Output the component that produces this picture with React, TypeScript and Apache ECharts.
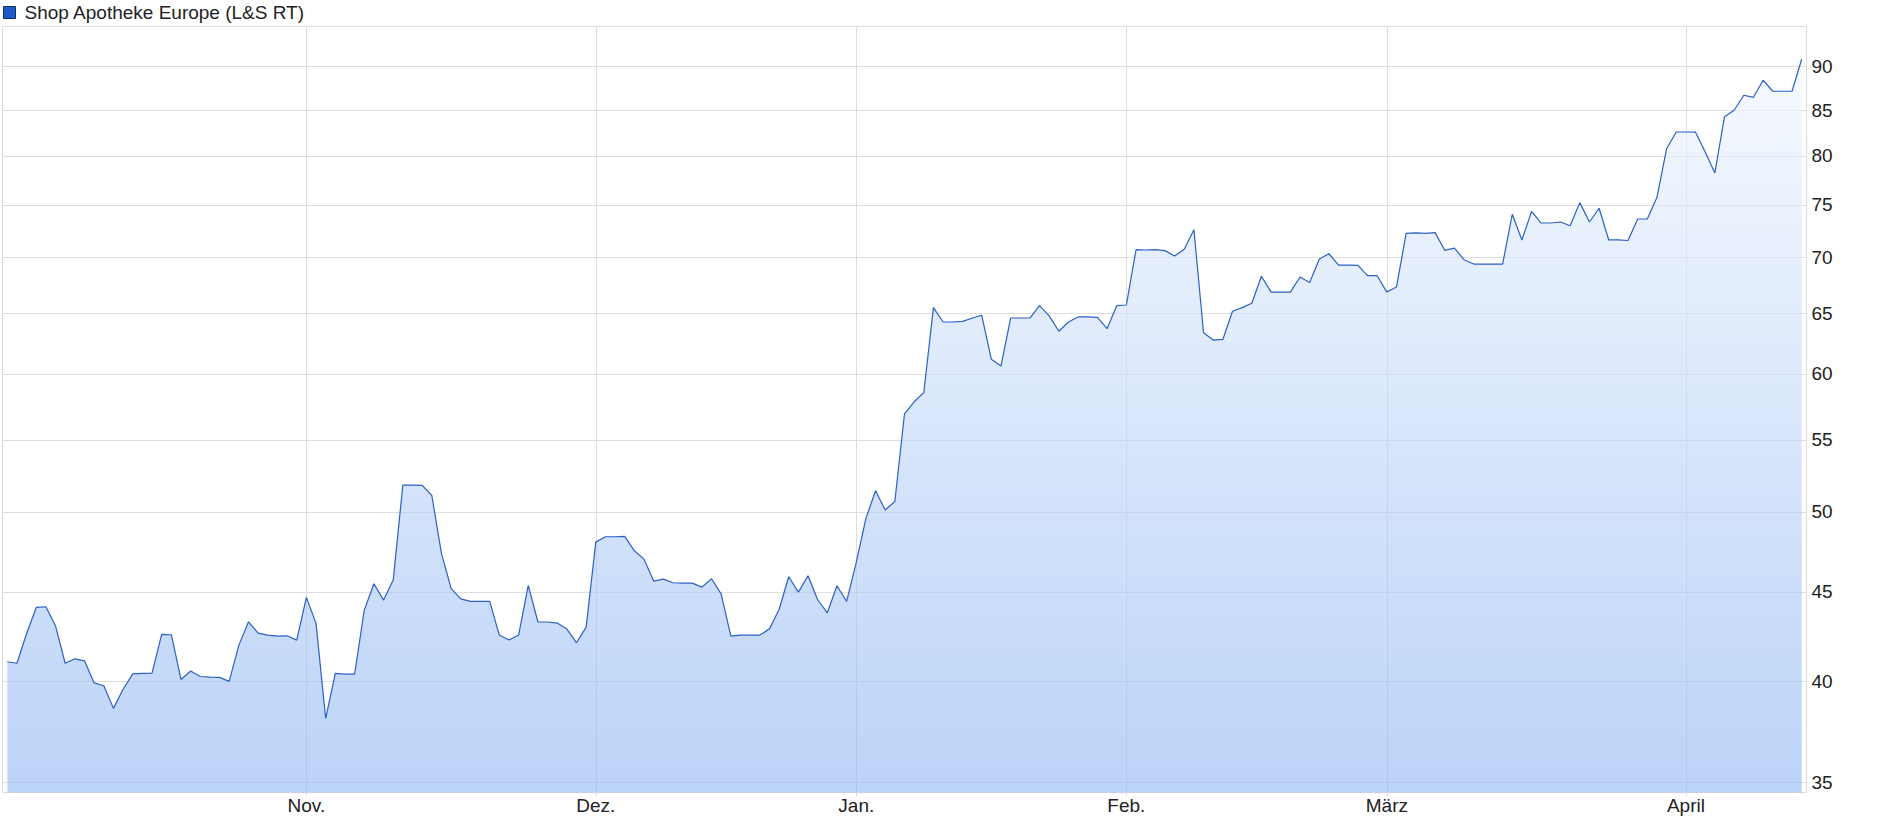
import { useEffect, useRef } from "react";
import * as echarts from "echarts";

const seriesName = "Shop Apotheke Europe (L&S RT)";

// Daily closing values (one point per calendar day, L&S real time)
const prices: number[] = [
  41.03, 40.95, 42.59, 44.08, 44.12, 43.01, 40.95, 41.19, 41.08, 39.9,
  39.75, 38.58, 39.57, 40.38, 40.4, 40.42, 42.54, 42.52, 40.08, 40.53,
  40.24, 40.21, 40.19, 39.98, 41.94, 43.25, 42.61, 42.5, 42.44, 42.46,
  42.22, 44.67, 43.16, 38.07, 40.4, 40.36, 40.36, 43.92, 45.48, 44.51,
  45.7, 51.81, 51.81, 51.79, 51.11, 47.34, 45.2, 44.58, 44.43, 44.43,
  44.43, 42.5, 42.22, 42.5, 45.38, 43.24, 43.24, 43.18, 42.84, 42.07,
  42.95, 48.05, 48.39, 48.39, 48.41, 47.5, 46.98, 45.64, 45.76, 45.54,
  45.52, 45.52, 45.28, 45.78, 44.86, 42.44, 42.5, 42.5, 42.5, 42.85,
  43.96, 45.9, 44.98, 45.96, 44.53, 43.77, 45.36, 44.43, 46.78, 49.58,
  51.42, 50.13, 50.7, 56.92, 57.83, 58.53, 65.48, 64.25, 64.25, 64.31,
  64.57, 64.83, 61.16, 60.62, 64.59, 64.59, 64.59, 65.65, 64.77, 63.47,
  64.25, 64.68, 64.68, 64.64, 63.69, 65.65, 65.71, 70.69, 70.66, 70.69,
  70.6, 70.1, 70.72, 72.58, 63.35, 62.74, 62.79, 65.17, 65.48, 65.86,
  68.25, 66.84, 66.84, 66.84, 68.18, 67.7, 69.82, 70.31, 69.27, 69.27,
  69.24, 68.3, 68.3, 66.84, 67.29, 72.23, 72.27, 72.23, 72.3, 70.63,
  70.84, 69.76, 69.36, 69.36, 69.36, 69.36, 74.07, 71.6, 74.36, 73.22,
  73.22, 73.32, 72.96, 75.22, 73.32, 74.66, 71.6, 71.6, 71.55, 73.61,
  73.61, 75.75, 80.77, 82.57, 82.57, 82.55, 80.42, 78.22, 84.26, 84.97,
  86.67, 86.44, 88.41, 87.13, 87.13, 87.13, 90.89,
];

// Index of the first point of each month and its label
const monthIndices: number[] = [31, 61, 88, 116, 143, 174];
const monthLabels: string[] = ["Nov.", "Dez.", "Jan.", "Feb.", "März", "April"];

// Y axis (logarithmic) tick labels and range
const yTicks: number[] = [35, 40, 45, 50, 55, 60, 65, 70, 75, 80, 85, 90];
const yRange: number[] = [34.53, 94.92];

const FONT = "'Liberation Sans', Arial, Helvetica, sans-serif";

export default function App() {
  const ref = useRef<HTMLDivElement>(null);

  useEffect(() => {
    if (!ref.current) return;
    const chart = echarts.init(ref.current, null, { renderer: "svg" });
    const ln = Math.log;
    const option: any = {
      animation: false,
      backgroundColor: "#ffffff",
      textStyle: { fontFamily: FONT },
      legend: {
        show: true,
        left: 3,
        top: 3,
        padding: 0,
        itemWidth: 12,
        itemHeight: 12,
        selectedMode: false,
        data: [
          {
            name: seriesName,
            icon: "rect",
            itemStyle: { color: "#1f5bc6", borderColor: "#0d2f70", borderWidth: 1 },
          },
        ],
        textStyle: {
          fontFamily: FONT,
          fontSize: 19,
          color: "#222222",
          padding: [4, 0, 0, 4],
        },
      },
      grid: {
        left: 2.5,
        top: 26.4,
        width: 1804,
        height: 766,
        show: true,
        borderColor: "#d9d9d9",
        borderWidth: 1,
        containLabel: false,
        outerBoundsMode: "none",
      },
      xAxis: {
        type: "value",
        min: -0.5,
        max: prices.length - 0.5,
        axisLine: { show: false },
        axisTick: {
          show: true,
          length: 4,
          customValues: monthIndices,
          lineStyle: { color: "#dedede" },
        },
        splitLine: { show: true, lineStyle: { color: "#dedede", width: 1 } },
        axisLabel: {
          customValues: monthIndices,
          margin: 4,
          fontFamily: FONT,
          fontSize: 19,
          color: "#222222",
          formatter: (v: number) => {
            const k = monthIndices.indexOf(Math.round(v));
            return k >= 0 ? monthLabels[k] : "";
          },
        },
      },
      yAxis: {
        type: "value",
        position: "right",
        min: ln(yRange[0]),
        max: ln(yRange[1]),
        axisLine: { show: false },
        axisTick: { show: false, customValues: yTicks.map((t) => ln(t)) },
        splitLine: { show: true, lineStyle: { color: "#dedede", width: 1 } },
        axisLabel: {
          customValues: yTicks.map((t) => ln(t)),
          margin: 5,
          fontFamily: FONT,
          fontSize: 19,
          color: "#222222",
          formatter: (v: number) => String(Math.round(Math.exp(v))),
        },
      },
      series: [
        {
          name: seriesName,
          type: "line",
          data: prices.map((p, i) => [i, ln(p)]),
          showSymbol: false,
          symbol: "none",
          lineStyle: { color: "#2b60c6", width: 1.2 },
          itemStyle: { color: "#1f5bc6" },
          areaStyle: {
            origin: "start",
            opacity: 1,
            color: new echarts.graphic.LinearGradient(0, 0, 0, 1, [
              { offset: 0, color: "rgba(240,245,254,0.6)" },
              { offset: 1, color: "rgba(143,182,243,0.6)" },
            ]),
          },
        },
      ],
    };
    chart.setOption(option);
    return () => chart.dispose();
  }, []);

  return (
    <div
      ref={ref}
      style={{ position: "fixed", left: 0, top: 0, width: 1880, height: 833 }}
    />
  );
}
